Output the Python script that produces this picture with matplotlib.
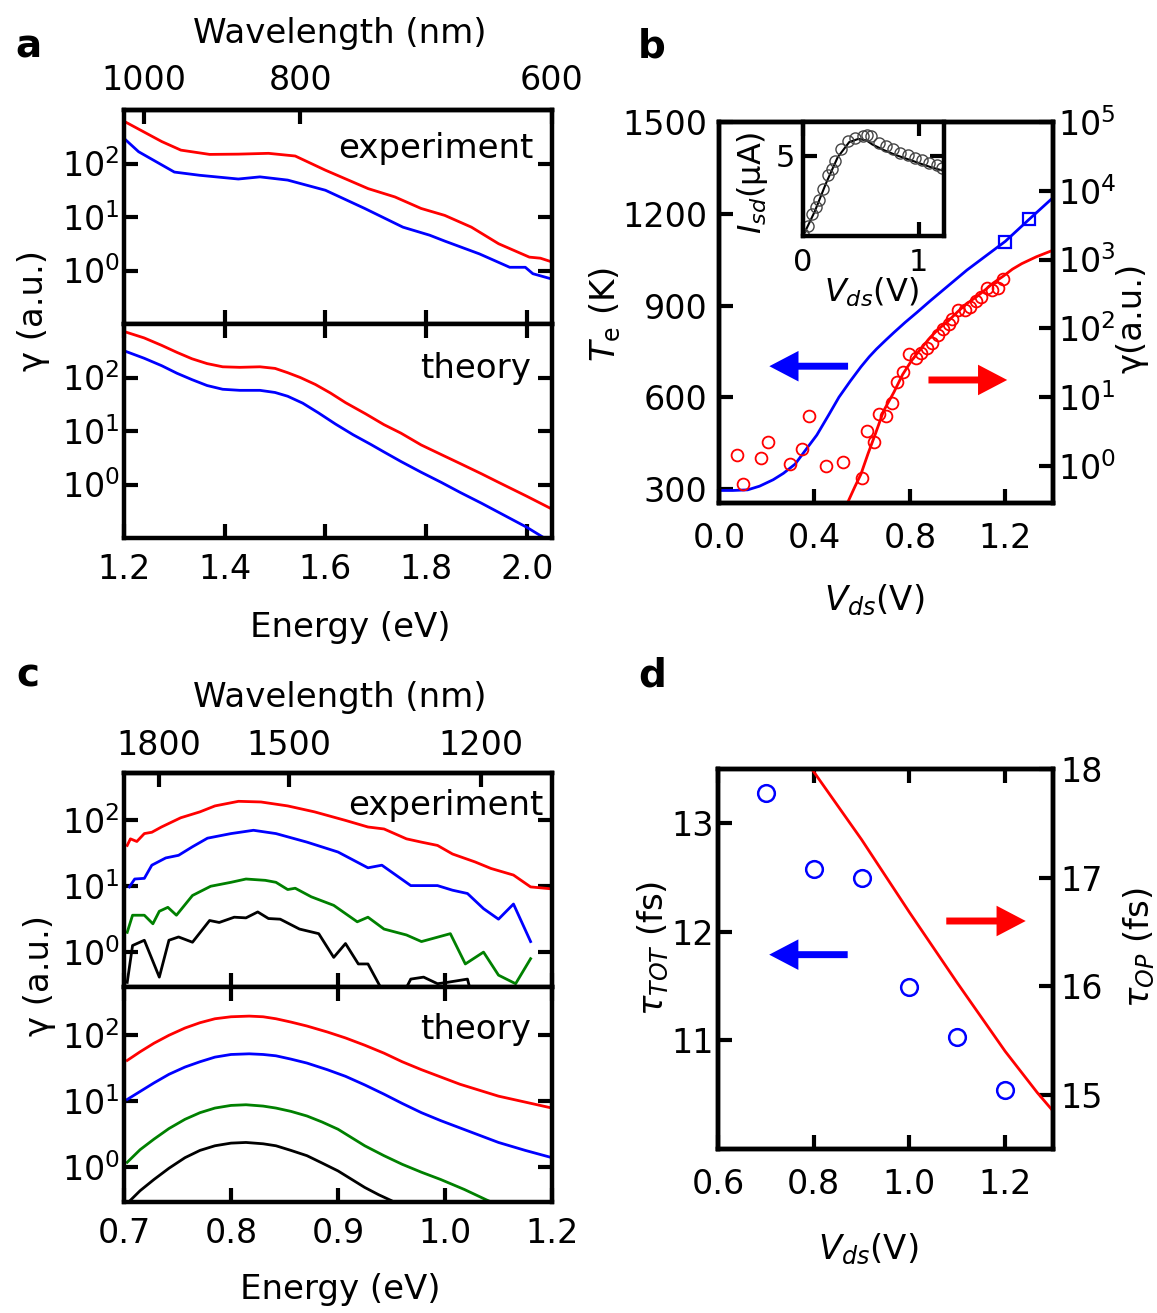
import numpy as np
import matplotlib
matplotlib.use('Agg')
import matplotlib.pyplot as plt
from matplotlib.ticker import NullLocator, LogLocator, NullFormatter
from matplotlib.patches import FancyArrowPatch

plt.rcParams['font.family'] = ['DejaVu Sans']
plt.rcParams['mathtext.fontset'] = 'dejavusans'
plt.rcParams['font.size'] = 24

# ---------------- data ----------------
# panel a (log10 of gamma vs photon energy in eV)
a_exp_red_E = [1.2, 1.275, 1.313, 1.37, 1.427, 1.487, 1.54, 1.60, 1.685, 1.738, 1.79,
               1.837, 1.89, 1.944, 2.005, 2.027, 2.05]
a_exp_red_log = [2.79, 2.41, 2.25, 2.17, 2.175, 2.19, 2.14, 1.875, 1.53, 1.375, 1.16,
                 1.03, 0.81, 0.5, 0.25, 0.23, 0.16]
a_exp_blue_E = [1.2, 1.229, 1.30, 1.35, 1.427, 1.47, 1.525, 1.60, 1.678, 1.754, 1.807,
                1.837, 1.906, 1.966, 1.997, 2.012, 2.05]
a_exp_blue_log = [2.47, 2.22, 1.84, 1.78, 1.71, 1.75, 1.69, 1.5, 1.16, 0.81, 0.66,
                  0.55, 0.31, 0.06, 0.06, -0.06, -0.16]
a_th_red_E = [1.2, 1.24, 1.275, 1.305, 1.335, 1.365, 1.396, 1.43, 1.47, 1.50, 1.525, 1.55,
              1.58, 1.61, 1.64, 1.68, 1.716, 1.75, 1.79, 1.83, 1.868, 1.91, 1.944, 2.0, 2.05]
a_th_red_log = [2.86, 2.74, 2.6, 2.47, 2.35, 2.26, 2.2, 2.19, 2.2, 2.17, 2.09, 2.0,
                1.87, 1.71, 1.53, 1.32, 1.12, 0.96, 0.74, 0.56, 0.39, 0.2, 0.04, -0.22, -0.46]
a_th_blue_E = [1.2, 1.24, 1.275, 1.305, 1.335, 1.365, 1.396, 1.43, 1.47, 1.50, 1.525, 1.555,
               1.586, 1.62, 1.655, 1.69, 1.716, 1.75, 1.79, 1.83, 1.868, 1.91, 1.944, 2.0, 2.04]
a_th_blue_log = [2.5, 2.36, 2.22, 2.08, 1.96, 1.85, 1.78, 1.76, 1.76, 1.72, 1.65, 1.52,
                 1.34, 1.13, 0.93, 0.75, 0.61, 0.43, 0.23, 0.04, -0.15, -0.35, -0.52, -0.8, -1.03]
a_xticks = [1.2, 1.4, 1.6, 1.8, 2.0]
a_wl_labels = ['1000', '800', '600']
a_wl_pos = [1.24, 1.55, 2.05]

# panel b
b_Te_V = [0.0, 0.06, 0.12, 0.17, 0.227, 0.27, 0.319, 0.36, 0.41, 0.46, 0.503, 0.55, 0.595,
          0.63, 0.66, 0.70, 0.733, 0.78, 0.83, 0.886, 1.039, 1.2, 1.3, 1.396]
b_Te = [296, 296, 298, 310, 331, 352, 382, 425, 477, 543, 601, 653, 700,
        733, 758, 788, 812, 845, 878, 916, 1016, 1110, 1182, 1250]
b_sq_V = [1.2, 1.3]
b_sq_Te = [1107, 1183]
b_pts_V = [0.077, 0.1, 0.176, 0.204, 0.299, 0.349, 0.377, 0.449, 0.521, 0.598, 0.622, 0.651,
           0.671, 0.699, 0.725, 0.745, 0.771, 0.798, 0.824, 0.848, 0.870, 0.893, 0.917, 0.94,
           0.962, 0.978, 1.0, 1.03, 1.054, 1.077, 1.1, 1.123, 1.146, 1.169, 1.192]
b_pts_log = [0.164, -0.27, 0.11, 0.35, 0.025, 0.24, 0.72, 0.0, 0.05, -0.17, 0.5, 0.35,
             0.75, 0.72, 0.91, 1.22, 1.37, 1.62, 1.57, 1.64, 1.72, 1.79, 1.91, 1.99,
             2.06, 2.14, 2.26, 2.26, 2.31, 2.39, 2.46, 2.59, 2.56, 2.59, 2.71]
b_fit_V = [0.541, 0.57, 0.595, 0.625, 0.656, 0.69, 0.733, 0.77, 0.809, 0.85, 0.886, 0.92,
           0.962, 1.0, 1.039, 1.08, 1.116, 1.15, 1.192, 1.23, 1.269, 1.33, 1.396]
b_fit_log = [-0.52, -0.3, -0.12, 0.18, 0.47, 0.8, 1.07, 1.33, 1.54, 1.72, 1.87, 1.99,
             2.11, 2.24, 2.36, 2.46, 2.56, 2.66, 2.76, 2.86, 2.94, 3.04, 3.13]
ins_V = [0.0, 0.047, 0.08, 0.11, 0.14, 0.17, 0.22, 0.25, 0.28, 0.33, 0.39, 0.45, 0.52, 0.55,
         0.59, 0.66, 0.72, 0.78, 0.84, 0.91, 0.97, 1.03, 1.09, 1.16, 1.2]
ins_I = [0.1, 0.62, 1.34, 1.8, 2.27, 2.9, 3.8, 4.2, 4.65, 5.4, 5.9, 6.1, 6.24, 6.3,
         6.2, 5.8, 5.6, 5.4, 5.2, 5.06, 4.86, 4.75, 4.55, 4.4, 4.25]
ins_fit_V = [0.0, 0.1, 0.2, 0.3, 0.4, 0.48, 0.55, 0.6, 0.7, 0.8, 0.9, 1.0, 1.1, 1.22]
ins_fit_I = [0.0, 1.5, 3.3, 4.9, 5.85, 6.05, 5.95, 5.7, 5.35, 5.05, 4.8, 4.55, 4.3, 4.05]

# panel c
c_exp_red_E = [0.703, 0.706, 0.712, 0.719, 0.726, 0.735, 0.753, 0.771, 0.785, 0.807, 0.828,
               0.853, 0.878, 0.907, 0.928, 0.943, 0.964, 0.978, 0.993, 1.007, 1.028, 1.043,
               1.064, 1.08, 1.1]
c_exp_red_log = [1.62, 1.72, 1.68, 1.8, 1.82, 1.9, 2.04, 2.13, 2.22, 2.29, 2.28,
                 2.22, 2.13, 2.0, 1.9, 1.87, 1.72, 1.67, 1.62, 1.49, 1.37, 1.27,
                 1.17, 0.99, 0.96]
c_exp_blue_E = [0.705, 0.71, 0.719, 0.726, 0.739, 0.751, 0.764, 0.778, 0.8, 0.821, 0.842,
                0.871, 0.9, 0.928, 0.941, 0.968, 0.993, 1.007, 1.021, 1.036, 1.05, 1.064, 1.08]
c_exp_blue_log = [0.99, 1.11, 1.12, 1.32, 1.43, 1.47, 1.6, 1.73, 1.8, 1.85, 1.8,
                  1.67, 1.52, 1.28, 1.32, 1.01, 1.01, 0.94, 0.89, 0.66, 0.5, 0.73, 0.16]
c_exp_green_E = [0.703, 0.708, 0.719, 0.727, 0.733, 0.741, 0.749, 0.764, 0.781, 0.8, 0.814,
                 0.832, 0.842, 0.853, 0.86, 0.875, 0.896, 0.918, 0.928, 0.943, 0.964, 0.978,
                 1.005, 1.019, 1.036, 1.05, 1.066, 1.08]
c_exp_green_log = [0.3, 0.56, 0.56, 0.43, 0.62, 0.68, 0.56, 0.86, 1.0, 1.06, 1.11,
                   1.09, 1.06, 0.95, 0.97, 0.84, 0.71, 0.46, 0.53, 0.35, 0.26, 0.16,
                   0.28, -0.18, 0.0, -0.35, -0.48, -0.1]
c_exp_black_E = [0.703, 0.708, 0.719, 0.733, 0.742, 0.751, 0.764, 0.78, 0.789, 0.803, 0.814,
                 0.825, 0.835, 0.846, 0.864, 0.882, 0.896, 0.907, 0.919, 0.928, 0.939, 0.946,
                 0.957, 0.968, 0.98, 0.993, 1.002, 1.021, 1.025]
c_exp_black_log = [-0.46, 0.1, 0.18, -0.38, 0.18, 0.23, 0.15, 0.48, 0.45, 0.53, 0.52,
                   0.61, 0.51, 0.5, 0.35, 0.28, -0.08, 0.13, -0.18, -0.18, -0.51, -0.76,
                   -0.76, -0.41, -0.38, -0.48, -0.46, -0.41, -0.66]
c_th_E = [0.703, 0.715, 0.728, 0.742, 0.757, 0.771, 0.785, 0.80, 0.817, 0.83, 0.842, 0.856,
          0.871, 0.89, 0.907, 0.925, 0.943, 0.96, 0.978, 0.996, 1.014, 1.032, 1.05, 1.075, 1.1]
c_th_red_log = [1.61, 1.74, 1.87, 1.99, 2.1, 2.18, 2.24, 2.27, 2.28, 2.27, 2.24, 2.19,
                2.13, 2.04, 1.95, 1.84, 1.72, 1.59, 1.47, 1.36, 1.25, 1.16, 1.07, 0.98, 0.89]
c_th_blue_log = [1.02, 1.14, 1.27, 1.4, 1.51, 1.59, 1.66, 1.70, 1.71, 1.7, 1.68, 1.63,
                 1.57, 1.47, 1.37, 1.24, 1.1, 0.96, 0.82, 0.7, 0.59, 0.48, 0.37, 0.25, 0.14]
c_th_green_E = [0.703, 0.715, 0.728, 0.742, 0.757, 0.771, 0.785, 0.80, 0.814, 0.83, 0.842,
                0.856, 0.871, 0.885, 0.9, 0.912, 0.925, 0.943, 0.96, 0.978, 0.996, 1.018,
                1.039, 1.05]
c_th_green_log = [0.07, 0.26, 0.42, 0.58, 0.72, 0.82, 0.89, 0.93, 0.94, 0.92, 0.89,
                  0.84, 0.77, 0.68, 0.57, 0.45, 0.32, 0.17, 0.04, -0.08, -0.19, -0.34,
                  -0.5, -0.58]
c_th_black_E = [0.705, 0.715, 0.728, 0.742, 0.757, 0.771, 0.785, 0.80, 0.814, 0.83, 0.842,
                0.856, 0.871, 0.885, 0.9, 0.912, 0.925, 0.938, 0.95, 0.96]
c_th_black_log = [-0.52, -0.36, -0.19, -0.02, 0.14, 0.25, 0.32, 0.36, 0.37, 0.35, 0.32,
                  0.25, 0.17, 0.06, -0.06, -0.18, -0.31, -0.42, -0.51, -0.6]
c_xtick_pos = [0.7, 0.8, 0.9, 1.0, 1.1]
c_xtick_labels = ['0.7', '0.8', '0.9', '1.0', '1.2']
c_wl_labels = ['1800', '1500', '1200']
c_wl_pos = [0.733, 0.854, 1.034]

# panel d
d_V = [0.7, 0.8, 0.9, 1.0, 1.1, 1.2]
d_tau_tot = [13.28, 12.58, 12.5, 11.49, 11.03, 10.54]
d_op_V = [0.796, 0.9, 1.0, 1.1, 1.2, 1.267, 1.3]
d_tau_op = [18.0, 17.35, 16.68, 16.03, 15.4, 15.02, 14.85]

# ---------------- figure ----------------
W, H = 1157, 1313
fig = plt.figure(figsize=(W / 100, H / 100), dpi=100)
TICK = 24
LAB = 24.5


def rect(x0, y0, x1, y1):
    return [x0 / W, 1 - y1 / H, (x1 - x0) / W, (y1 - y0) / H]


def ftext(x, y, s, **kw):
    fig.text(x / W, 1 - y / H, s, ha='center', va='center', **kw)


def sty(ax, labelsize=TICK):
    ax.tick_params(which='major', direction='in', length=10, width=3, labelsize=labelsize)
    for sp in ax.spines.values():
        sp.set_linewidth(3.2)


def arrow(ax, x0, x1, y, color):
    ax.add_patch(FancyArrowPatch((x0, y), (x1, y),
                                 arrowstyle='simple,head_length=1.05,head_width=1.1,tail_width=0.25',
                                 mutation_scale=20, color=color, lw=0, shrinkA=0, shrinkB=0, zorder=5))


def logax(ax, lo, hi):
    ax.set_yscale('log')
    ax.set_ylim(lo, hi)
    ax.set_yticks([1, 10, 100], [r'$10^{0}$', r'$10^{1}$', r'$10^{2}$'])
    ax.yaxis.set_minor_locator(NullLocator())


def wl_axis(ax, pos, labels, pad):
    sec = ax.secondary_xaxis('top')
    sec.set_xticks(pos, labels)
    sec.tick_params(direction='in', length=10, width=3, labelsize=TICK, pad=pad)
    sec.spines['top'].set_linewidth(3.2)


# ---- a ----
ax = fig.add_axes(rect(124, 110, 552, 324))
ax.plot(a_exp_red_E, 10 ** np.array(a_exp_red_log), color='red', lw=2)
ax.plot(a_exp_blue_E, 10 ** np.array(a_exp_blue_log), color='blue', lw=2)
logax(ax, 0.1, 1000)
ax.set_xlim(1.2, 2.05)
ax.set_xticks(a_xticks)
sty(ax)
ax.tick_params(top=False, right=True, labelbottom=False)
ax.tick_params(axis='y', pad=3)
wl_axis(ax, a_wl_pos, a_wl_labels, 9.5)
ax.text(0.956, 0.82, 'experiment', transform=ax.transAxes, ha='right', va='center', fontsize=LAB)

ax = fig.add_axes(rect(124, 324, 552, 538))
ax.plot(a_th_red_E, 10 ** np.array(a_th_red_log), color='red', lw=2)
ax.plot(a_th_blue_E, 10 ** np.array(a_th_blue_log), color='blue', lw=2)
logax(ax, 0.1, 1000)
ax.set_xlim(1.2, 2.05)
ax.set_xticks(a_xticks, [f'{v:.1f}' for v in a_xticks])
sty(ax)
ax.tick_params(top=True, right=True)
ax.tick_params(axis='y', pad=3)
ax.tick_params(axis='x', pad=11)
ax.text(0.951, 0.794, 'theory', transform=ax.transAxes, ha='right', va='center', fontsize=LAB)

ftext(28, 47, 'a', fontsize=28, fontweight='bold')
ftext(340, 33, 'Wavelength (nm)', fontsize=LAB)
ftext(350, 627, 'Energy (eV)', fontsize=LAB)
ftext(33, 310, 'γ (a.u.)', fontsize=LAB, rotation=90)

# ---- b ----
axb = fig.add_axes(rect(719, 122, 1053, 503))
axb.plot(b_Te_V, b_Te, color='blue', lw=2)
axb.plot(b_sq_V, b_sq_Te, 's', mfc='none', mec='blue', ms=9, mew=1.6)
axb.set_xlim(0, 1.4)
axb.set_ylim(255, 1500)
axb.set_xticks([0.0, 0.4, 0.8, 1.2], ['0.0', '0.4', '0.8', '1.2'])
axb.set_yticks([300, 600, 900, 1200, 1500])
sty(axb)
axb.tick_params(axis='x', pad=13.5)
axb.tick_params(axis='y', pad=8.5)
arrow(axb, 0.541, 0.211, 702, 'blue')
arrow(axb, 0.878, 1.208, 657, 'red')

axb2 = axb.twinx()
axb2.plot(b_pts_V, 10 ** np.array(b_pts_log), 'o', mfc='none', mec='red', ms=8.5, mew=1.3)
axb2.plot(b_fit_V, 10 ** np.array(b_fit_log), color='red', lw=2)
axb2.set_yscale('log')
axb2.set_ylim(10 ** -0.54, 1e5)
axb2.set_yticks([1, 10, 100, 1e3, 1e4, 1e5],
                [r'$10^{0}$', r'$10^{1}$', r'$10^{2}$', r'$10^{3}$', r'$10^{4}$', r'$10^{5}$'])
axb2.yaxis.set_minor_locator(LogLocator(base=10, subs=np.arange(2, 10)))
axb2.yaxis.set_minor_formatter(NullFormatter())
sty(axb2)
axb2.tick_params(which='minor', direction='in', length=6, width=2)
axb2.tick_params(axis='y', pad=3.5)

axi = fig.add_axes(rect(803, 122, 944, 236))
axi.set_facecolor('white')
axi.plot(ins_fit_V, ins_fit_I, color='black', lw=1.5)
axi.plot(ins_V, ins_I, 'o', mfc='none', mec='#444444', ms=8, mew=1.0)
axi.set_xlim(0, 1.22)
axi.set_ylim(0, 7.1)
axi.set_xticks([0, 1], ['0', '1'])
axi.set_yticks([5], ['5'])
sty(axi, labelsize=22)
axi.tick_params(top=True, right=True)
axi.tick_params(axis='x', pad=8.5)
axi.tick_params(axis='y', pad=6)

ftext(652, 47, 'b', fontsize=28, fontweight='bold')
ftext(605, 314, r'$T_{\mathrm{e}}$ (K)', fontsize=LAB, rotation=90)
ftext(1132, 318, 'γ(a.u.)', fontsize=LAB, rotation=90)
ftext(874, 600, r'$V_{ds}$(V)', fontsize=LAB)
ftext(752, 183, r'$I_{sd}$(μA)', fontsize=23, rotation=90)
ftext(871, 292, r'$V_{ds}$(V)', fontsize=23)

# ---- c ----
ax = fig.add_axes(rect(124, 773, 552, 987))
ax.plot(c_exp_red_E, 10 ** np.array(c_exp_red_log), color='red', lw=2)
ax.plot(c_exp_blue_E, 10 ** np.array(c_exp_blue_log), color='blue', lw=2)
ax.plot(c_exp_green_E, 10 ** np.array(c_exp_green_log), color='green', lw=2)
ax.plot(c_exp_black_E, 10 ** np.array(c_exp_black_log), color='black', lw=2)
logax(ax, 10 ** -0.53, 10 ** 2.72)
ax.set_xlim(0.7, 1.1)
ax.set_xticks(c_xtick_pos)
sty(ax)
ax.tick_params(top=False, right=True, labelbottom=False)
ax.tick_params(axis='y', pad=3)
wl_axis(ax, c_wl_pos, c_wl_labels, 8)
ax.text(0.981, 0.846, 'experiment', transform=ax.transAxes, ha='right', va='center', fontsize=LAB)

ax = fig.add_axes(rect(124, 987, 552, 1202))
ax.plot(c_th_E, 10 ** np.array(c_th_red_log), color='red', lw=2)
ax.plot(c_th_E, 10 ** np.array(c_th_blue_log), color='blue', lw=2)
ax.plot(c_th_green_E, 10 ** np.array(c_th_green_log), color='green', lw=2)
ax.plot(c_th_black_E, 10 ** np.array(c_th_black_log), color='black', lw=2)
logax(ax, 10 ** -0.53, 10 ** 2.72)
ax.set_xlim(0.7, 1.1)
ax.set_xticks(c_xtick_pos, c_xtick_labels)
sty(ax)
ax.tick_params(top=True, right=True)
ax.tick_params(axis='y', pad=3)
ax.tick_params(axis='x', pad=11)
ax.text(0.951, 0.80, 'theory', transform=ax.transAxes, ha='right', va='center', fontsize=LAB)

ftext(28, 675, 'c', fontsize=28, fontweight='bold')
ftext(340, 697, 'Wavelength (nm)', fontsize=LAB)
ftext(340, 1290, 'Energy (eV)', fontsize=LAB)
ftext(40, 975, 'γ (a.u.)', fontsize=LAB, rotation=90)

# ---- d ----
axd = fig.add_axes(rect(718, 769, 1053, 1149))
axd.plot(d_V, d_tau_tot, 'o', mfc='none', mec='blue', ms=12, mew=1.8)
axd.set_xlim(0.6, 1.3)
axd.set_ylim(10, 13.5)
axd.set_xticks([0.6, 0.8, 1.0, 1.2], ['0.6', '0.8', '1.0', '1.2'])
axd.set_yticks([11, 12, 13])
sty(axd)
axd.tick_params(top=True)
axd.tick_params(axis='x', pad=13.5)
axd.tick_params(axis='y', pad=3)
arrow(axd, 0.871, 0.707, 11.79, 'blue')
arrow(axd, 1.077, 1.243, 12.10, 'red')

axd2 = axd.twinx()
axd2.plot(d_op_V, d_tau_op, color='red', lw=2)
axd2.set_ylim(14.5, 18)
axd2.set_yticks([15, 16, 17, 18])
sty(axd2)
axd2.tick_params(axis='y', pad=5)

ftext(652, 675, 'd', fontsize=28, fontweight='bold')
ftext(653, 948, r'$\tau_{TOT}$ (fs)', fontsize=LAB, rotation=90)
ftext(1139, 948, r'$\tau_{OP}$ (fs)', fontsize=LAB, rotation=90)
ftext(868, 1249, r'$V_{ds}$(V)', fontsize=LAB)

fig.savefig('out.png', dpi=100)
